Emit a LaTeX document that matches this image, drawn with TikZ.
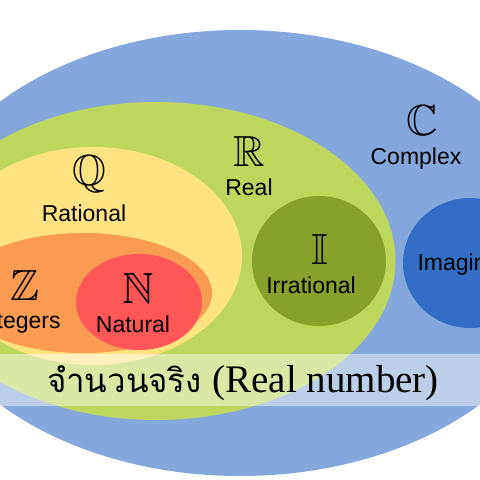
\documentclass[tikz,border=0pt]{standalone}
\usepackage{fontspec}
\setmainfont{Liberation Sans}
\newfontfamily\thaifont[Script=Thai]{Loma}
\newfontfamily\bandserif{Liberation Serif}
\usepackage{amssymb}
\usepackage{graphicx}
\usetikzlibrary{shapes.geometric, positioning}

\definecolor{complexblue}{HTML}{84A8DC}
\definecolor{realgreen}{HTML}{BDD65E}
\definecolor{ratyellow}{HTML}{FFE382}
\definecolor{intorange}{HTML}{F99B52}
\definecolor{natred}{HTML}{FF5757}
\definecolor{irrolive}{HTML}{87A12D}
\definecolor{imagblue}{HTML}{346EC4}

\newcommand{\numset}[1]{{\fontsize{24.88}{28}\selectfont\scalebox{1.75}{$\mathbb{#1}$}}}

\begin{document}
\begin{tikzpicture}[
    x=1pt, y=-1pt,
    setbox/.style={ellipse, inner sep=0pt, outer sep=0pt},
    setname/.style={font=\fontsize{23}{27}\selectfont, inner sep=0pt, anchor=base},
    setsym/.style={inner sep=0pt, above=11pt of #1},
    band/.style={rectangle, fill=white, fill opacity=0.45, inner sep=0pt, minimum width=480pt, minimum height=52pt},
]
\useasboundingbox (0,0) rectangle (480,480);
\clip (0,0) rectangle (480,480);

% Number sets
\node[setbox, fill=complexblue, minimum width=654pt, minimum height=446pt] (complex) at (240,253) {};
\node[setbox, fill=realgreen, minimum width=479pt, minimum height=318pt] (real) at (156,261) {};
\node[setbox, fill=ratyellow, minimum width=298pt, minimum height=218pt] (rational) at (93,256) {};
\node[setbox, fill=intorange, minimum width=258pt, minimum height=120pt] (integers) at (83,293) {};
\node[setbox, fill=natred, minimum width=126pt, minimum height=96pt] (natural) at (139,302) {};
\node[setbox, fill=irrolive, minimum width=134pt, minimum height=130pt] (irrational) at (319,261) {};
\node[setbox, fill=imagblue, minimum width=134pt, minimum height=130pt] (imaginary) at (470,263) {};

% Set names
\node[setname] (cname) at (416,164) {Complex};
\node[setname] (rname) at (249,195) {Real};
\node[setname] (qname) at (84,221) {Rational};
\node[setname] (zname) at (19,328) {Integers};
\node[setname] (nname) at (133,332) {Natural};
\node[setname] (iname) at (311,293) {Irrational};
\node[setname] (imname) at (468,270) {Imaginary};

% Set symbols
\node[setsym=cname, xshift=6pt] (csym) {\numset{C}};
\node[setsym=rname] (rsym) {\numset{R}};
\node[setsym=qname, xshift=5pt] (qsym) {\numset{Q}};
\node[setsym=zname, xshift=6pt] (zsym) {\numset{Z}};
\node[setsym=nname, xshift=5pt] (nsym) {\numset{N}};
\node[setsym=iname, xshift=9pt] (isym) {\numset{I}};

% Caption band
\node[band] (capband) at (240,380) {};
\node[anchor=base, inner sep=0pt, font=\fontsize{39}{44}\selectfont] (caption) at (243,392) {{\thaifont\fontsize{33}{40}\selectfont จำนวนจริง} {\bandserif (Real number)}};

\end{tikzpicture}
\end{document}
